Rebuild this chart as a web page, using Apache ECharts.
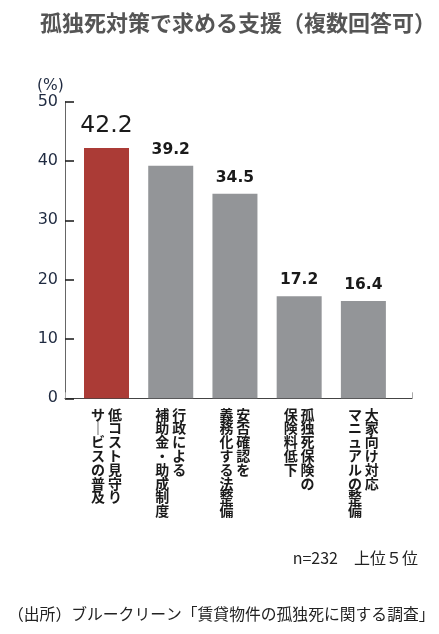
<!DOCTYPE html>
<html>
<head>
<meta charset="utf-8">
<script src="https://cdn.jsdelivr.net/npm/echarts@6/dist/echarts.min.js"></script>
<style>
html,body{margin:0;padding:0;background:#fff;}
#c{width:439px;height:634px;}
</style>
</head>
<body>
<div id="c"></div>
<script>
// ---- data ----
var titleText = '孤独死対策で求める支援（複数回答可）';
var unitText = '(%)';
var noteText = 'n=232　上位５位';
var sourceText = '（出所）ブルークリーン「賃貸物件の孤独死に関する調査」';
// each category: [first (right) column, second (left) column] in vertical writing
var categoryColumns = [
  ['低コスト見守り', 'サービスの普及'],
  ['行政による', '補助金・助成制度'],
  ['安否確認を', '義務化する法整備'],
  ['孤独死保険の', '保険料低下'],
  ['大家向け対応', 'マニュアルの整備']
];
var categories = categoryColumns.map(function (c) { return c[0] + c[1]; });
var values = [42.2, 39.2, 34.5, 17.2, 16.4];
var yTicks = [0, 10, 20, 30, 40, 50];

// ---- chart ----
var vmap = { 'ー': '｜' };
function toVertical(idx) {
  var cols = categoryColumns[idx];
  var right = Array.from(cols[0]).map(function (ch) { return vmap[ch] || ch; });
  var left = Array.from(cols[1]).map(function (ch) { return vmap[ch] || ch; });
  var n = Math.max(right.length, left.length);
  var lines = [];
  for (var i = 0; i < n; i++) {
    lines.push((left[i] || '　') + '\u2009' + (right[i] || '　'));
  }
  return lines.join('\n');
}

var chart = echarts.init(document.getElementById('c'));
var gridTop = 101.7, gridBottom = 235.7;
chart.setOption({
  animation: false,
  backgroundColor: '#fff',
  title: [
    { text: titleText, left: 35, top: 7,
      textStyle: { fontFamily: 'Noto Sans CJK JP', fontSize: 22, fontWeight: 'bold', color: '#555' } },
    { text: unitText, left: 32, top: 73,
      textStyle: { fontFamily: 'DejaVu Sans', fontSize: 15.5, fontWeight: 'normal', color: '#1f2a40' } },
    { text: noteText, right: 16, top: 545,
      textStyle: { fontFamily: 'Noto Sans CJK JP', fontSize: 16, fontWeight: 'normal', color: '#222' } },
    { text: sourceText, left: 3, top: 601,
      textStyle: { fontFamily: 'Noto Sans CJK JP', fontSize: 15.8, fontWeight: 'normal', color: '#222' } }
  ],
  grid: [
    { left: 74.4, right: 43.5, top: gridTop, bottom: gridBottom },
    { left: 65, right: 27, top: gridTop, bottom: gridBottom }
  ],
  xAxis: [
    { type: 'category', gridIndex: 0, data: categories,
      axisLine: { show: false }, axisTick: { show: false },
      axisLabel: { interval: 0, margin: 9, verticalAlign: 'top', align: 'center',
        fontFamily: 'Noto Sans CJK JP', fontSize: 14, fontWeight: 'bold', lineHeight: 13.8, color: '#1a1a1a',
        formatter: function (v, i) { return toVertical(i); } } },
    { type: 'value', gridIndex: 1, min: 0, max: 1, interval: 1,
      axisLine: { show: true, lineStyle: { color: '#444', width: 1.2 } },
      axisTick: { show: true, inside: true, length: 6, lineStyle: { color: '#aaa', width: 1 } },
      axisLabel: { show: false }, splitLine: { show: false } }
  ],
  yAxis: [
    { type: 'value', gridIndex: 0, min: 0, max: 50, interval: 10, offset: 9.4,
      axisLine: { show: true, lineStyle: { color: '#666', width: 1 } },
      axisTick: { show: true, inside: true, length: 9, lineStyle: { color: '#222', width: 1.6 } },
      axisLabel: { margin: 7, fontFamily: 'DejaVu Sans', fontSize: 16, color: '#1f2a40',
        formatter: function (v) { return yTicks.indexOf(v) >= 0 ? String(v) : ''; } },
      splitLine: { show: false } },
    { type: 'value', gridIndex: 1, show: false, min: 0, max: 50 }
  ],
  series: [{
    type: 'bar', xAxisIndex: 0, yAxisIndex: 0, barWidth: 45,
    data: values.map(function (v, i) {
      if (i === 0) {
        return { value: v, itemStyle: { color: '#ab3b36' },
          label: { fontSize: 23.5, fontWeight: 500, distance: 10 } };
      }
      return v;
    }),
    itemStyle: { color: '#939598' },
    label: { show: true, position: 'top', distance: 8,
      fontFamily: 'DejaVu Sans', fontSize: 15.5, fontWeight: 'bold', color: '#1a1a1a',
      formatter: function (p) { return p.value.toFixed(1); } }
  }]
});
</script>
</body>
</html>
